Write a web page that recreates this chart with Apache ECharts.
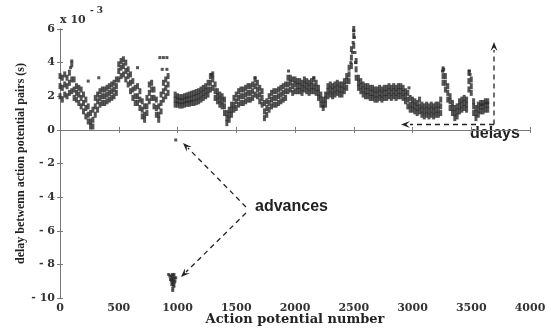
<!DOCTYPE html>
<html><head><meta charset="utf-8">
<script src="https://cdn.jsdelivr.net/npm/echarts@6/dist/echarts.min.js"></script>
<style>html,body{margin:0;padding:0;background:#fff}#c{width:551px;height:329px}</style>
</head><body><div id="c"></div>
<script>
// Action potential index of first sample and sampling step (action potentials)
const startIndex = 0;
const sampleStep = 20;
// delay (x10^-3 s): centre of the dot band, sampled every 20 action potentials (null = no dots)
const bandCenter = [2.6,2.5,2.7,2.6,2.8,3.0,2.4,2.2,2.1,1.9,1.6,1.3,0.9,0.5,0.6,1.4,1.7,1.9,2.0,2.0,
2.1,2.2,2.3,2.4,2.6,3.5,3.7,3.8,3.5,3.2,2.8,2.4,2.0,2.0,1.8,1.2,0.9,1.4,2.2,2.4,
1.9,1.3,0.9,1.6,2.3,2.5,2.7,null,null,1.8,1.75,1.7,1.7,1.75,1.8,1.8,1.85,1.9,1.95,2.0,
2.1,2.2,2.3,2.4,2.8,3.0,2.3,2.0,1.8,1.7,1.4,0.7,0.9,1.2,1.5,1.7,1.9,2.0,2.0,2.1,
2.2,2.2,2.3,2.6,2.4,2.1,1.9,1.1,1.3,1.6,1.8,1.9,1.9,2.0,2.1,2.2,2.3,2.7,2.8,2.6,
2.7,2.6,2.6,2.5,2.7,2.6,2.5,2.6,2.6,2.5,2.2,1.8,1.5,1.8,2.3,2.4,2.3,2.4,2.5,2.4,
2.4,2.6,2.9,3.3,4.3,5.6,3.6,2.8,2.6,2.4,2.3,2.3,2.2,2.2,2.1,2.1,2.2,2.1,2.2,2.2,
2.3,2.2,2.3,2.2,2.3,2.3,2.2,2.0,1.8,1.5,1.5,1.4,1.3,1.4,1.2,1.1,1.2,1.1,1.2,1.1,
1.2,1.2,1.4,3.2,2.8,2.2,1.7,1.3,1.0,1.1,1.4,1.5,1.6,1.5,2.9,2.6,1.4,1.0,1.2,1.4,
1.4,1.5,1.5];
// upper edge of the dot band
const bandUpper = [3.2,3.1,3.3,3.1,3.4,3.9,3.0,2.6,2.5,2.4,2.1,1.8,1.4,1.0,1.2,1.9,2.1,2.3,2.4,2.4,
2.5,2.6,2.7,2.8,3.0,3.9,4.1,4.2,4.0,3.6,3.3,2.9,2.5,2.6,2.3,1.7,1.4,1.9,2.7,2.8,
2.4,1.8,1.4,2.1,2.8,3.0,3.2,null,null,2.1,2.0,1.95,1.95,2.0,2.05,2.1,2.15,2.2,2.25,2.3,
2.4,2.5,2.6,2.8,3.2,3.3,2.7,2.3,2.1,2.0,1.8,1.0,1.2,1.5,1.9,2.1,2.3,2.4,2.4,2.5,
2.6,2.6,2.7,3.0,2.8,2.5,2.3,1.6,1.7,2.0,2.2,2.3,2.3,2.4,2.5,2.6,2.7,3.1,3.1,3.0,
3.0,2.9,2.9,2.8,3.0,2.9,2.8,2.9,3.0,2.8,2.5,2.1,1.8,2.1,2.6,2.7,2.6,2.7,2.8,2.7,
2.7,2.9,3.2,3.7,4.8,6.0,4.1,3.1,2.9,2.7,2.6,2.6,2.5,2.5,2.4,2.4,2.5,2.4,2.5,2.5,
2.6,2.5,2.6,2.5,2.6,2.6,2.5,2.3,2.2,1.9,1.8,1.7,1.6,1.8,1.5,1.4,1.5,1.4,1.5,1.4,
1.5,1.5,1.8,3.6,3.2,2.6,2.0,1.6,1.3,1.4,1.7,1.8,1.9,1.8,3.4,3.0,1.7,1.3,1.5,1.6,
1.6,1.7,1.7];
// lower edge of the dot band
const bandLower = [2.0,1.8,2.1,2.0,2.2,2.3,1.9,1.8,1.6,1.4,1.1,0.8,0.5,0.2,0.2,0.9,1.2,1.5,1.6,1.6,
1.7,1.8,1.9,2.0,2.2,3.0,3.2,3.3,3.0,2.7,2.3,1.9,1.6,1.6,1.3,0.8,0.6,1.0,1.7,1.9,
1.4,0.9,0.6,1.1,1.8,2.0,2.2,null,null,1.5,1.5,1.45,1.45,1.5,1.55,1.55,1.6,1.6,1.65,1.7,
1.8,1.9,2.0,2.1,2.4,2.5,1.9,1.7,1.5,1.4,1.0,0.4,0.6,0.9,1.2,1.3,1.5,1.6,1.6,1.7,
1.8,1.8,1.9,2.1,2.0,1.7,1.5,0.7,0.9,1.2,1.4,1.5,1.5,1.6,1.7,1.8,1.9,2.3,2.4,2.2,
2.3,2.3,2.3,2.2,2.4,2.3,2.2,2.3,2.3,2.2,1.9,1.5,1.3,1.5,2.0,2.1,2.0,2.1,2.2,2.1,
2.1,2.3,2.5,2.9,3.8,5.0,3.1,2.5,2.3,2.1,2.0,2.0,1.9,1.9,1.8,1.8,1.9,1.8,1.9,1.9,
2.0,1.9,2.0,1.9,2.0,2.0,1.9,1.7,1.4,1.2,1.2,1.1,1.0,1.1,0.9,0.8,0.9,0.8,0.9,0.8,
0.9,0.9,1.0,2.8,2.4,1.8,1.3,1.0,0.7,0.8,1.1,1.2,1.3,1.2,2.4,2.2,1.0,0.7,0.9,1.1,
1.1,1.2,1.2];
// isolated dots: [action potential number, delay x10^-3 s]
const isolatedDots = [[90,3.7],[100,4.1],[240,2.9],[330,3.1],[660,3.7],[850,4.3],[880,4.3],[910,4.3],
[870,3.6],[910,3.6],[1290,3.3],[1660,3.1],[1945,3.5],[2160,3.1],[2475,4.0],[2490,4.6],[2495,5.2],
[2500,5.9],[2505,5.5],[2510,4.6],[2515,4.0],[3255,3.5],[3265,3.6],[3485,3.5],[3490,3.3],[2970,2.5],[985,-0.6]];
// the "advances" cluster
const advanceDots = [[925,-8.6],[935,-8.7],[945,-8.7],[950,-8.9],[955,-8.8],[958,-9.1],[962,-9.0],[965,-9.2],
[968,-8.9],[970,-9.3],[972,-9.1],[975,-8.8],[960,-9.4],[959,-9.55],[952,-9.2],[948,-9.0],[978,-9.0],[963,-8.7],
[970,-8.6],[957,-8.6],[985,-8.8],[940,-8.9]];
const xTicks = {min:0, max:4000, step:500};
const yTicks = {min:-10, max:6, step:2};

const pts = [];
[bandCenter, bandUpper, bandLower].forEach(arr => arr.forEach((v,i) => { if (v !== null) pts.push([startIndex + i*sampleStep, v]); }));
const extra = isolatedDots.concat(advanceDots);

const chart = echarts.init(document.getElementById('c'), null, {renderer:'canvas'});
const axisCol = '#7a7a7a';
const lblFont = {fontFamily:'DejaVu Serif', fontWeight:'bold', fontSize:11, color:'#333'};
const dash = {stroke:'#222', lineWidth:1.3, lineDash:[5,4]};
function head(x, y, ang) { // arrowhead polygon at tip (x,y), pointing direction ang (radians)
  const L = 9, W = 3.5, c = Math.cos(ang), s = Math.sin(ang);
  const bx = x - L*c, by = y - L*s, ix = x - 0.6*L*c, iy = y - 0.6*L*s;
  return {type:'polygon', shape:{points:[[x,y],[bx - W*s, by + W*c],[ix,iy],[bx + W*s, by - W*c]]}, style:{fill:'#222'}};
}
const gfx = [
  {type:'text', left:60, top:15, style:{text:'x 10', font:'bold 11px "DejaVu Serif"', fill:'#333'}},
  {type:'text', left:90, top:6, style:{text:'- 3', font:'bold 9px "DejaVu Serif"', fill:'#333'}},
  {type:'text', left:255, top:199, style:{text:'advances', font:'bold 16px "Liberation Sans"', fill:'#222'}},
  {type:'text', left:470, top:126, style:{text:'delays', font:'bold 16px "Liberation Sans"', fill:'#222'}},
  {type:'line', shape:{x1:246,y1:207,x2:188,y2:148}, style:dash},
  head(183,143, Math.atan2(143-207,183-246)),
  {type:'line', shape:{x1:246,y1:213,x2:186,y2:272}, style:dash},
  head(181,277, Math.atan2(277-213,181-246)),
  {type:'line', shape:{x1:494,y1:124.5,x2:410,y2:124.5}, style:dash},
  head(401,124.5, Math.PI),
  {type:'line', shape:{x1:494,y1:124.5,x2:494,y2:50}, style:dash},
  head(494,42, -Math.PI/2)
];
chart.setOption({
  animation:false,
  backgroundColor:'#fff',
  grid:{left:60, right:21, top:29, bottom:31, outerBoundsMode:'none', containLabel:false},
  xAxis:[{type:'value', min:xTicks.min, max:xTicks.max, interval:xTicks.step,
    name:'Action potential number', nameLocation:'middle', nameGap:15, nameMoveOverlap:false,
    nameTextStyle:{fontFamily:'DejaVu Serif', fontWeight:'bold', fontSize:13, color:'#222'},
    axisLine:{lineStyle:{color:axisCol}}, axisTick:{inside:true, length:3, lineStyle:{color:axisCol}},
    axisLabel:Object.assign({margin:5, formatter:v => String(v)}, lblFont), splitLine:{show:false}},
    {type:'value', position:'top', min:xTicks.min, max:xTicks.max, interval:xTicks.step,
    axisLine:{lineStyle:{color:axisCol}}, axisTick:{inside:true, length:3, lineStyle:{color:axisCol}},
    axisLabel:{show:false}, splitLine:{show:false}}],
  yAxis:[{type:'value', min:yTicks.min, max:yTicks.max, interval:yTicks.step,
    name:'delay betwenn action potential pairs (s)', nameLocation:'middle', nameGap:33, nameMoveOverlap:false,
    nameTextStyle:{fontFamily:'Liberation Serif', fontWeight:'bold', fontSize:12, color:'#222'},
    axisLine:{lineStyle:{color:axisCol}}, axisTick:{inside:true, length:3, lineStyle:{color:axisCol}},
    axisLabel:Object.assign({margin:5, formatter:v => v < 0 ? '- ' + Math.abs(v) : String(v)}, lblFont),
    splitLine:{show:false}},
    {type:'value', position:'right', min:yTicks.min, max:yTicks.max, interval:yTicks.step,
    axisLine:{lineStyle:{color:axisCol}}, axisTick:{inside:true, length:3, lineStyle:{color:axisCol}},
    axisLabel:{show:false}, splitLine:{show:false}}],
  series:[{type:'scatter', data:pts, symbol:'rect', symbolSize:[3,6], itemStyle:{color:'#2b2b2b'}},
          {type:'scatter', data:extra, symbol:'rect', symbolSize:3, itemStyle:{color:'#2b2b2b'}}],
  graphic:gfx
});
</script></body></html>
